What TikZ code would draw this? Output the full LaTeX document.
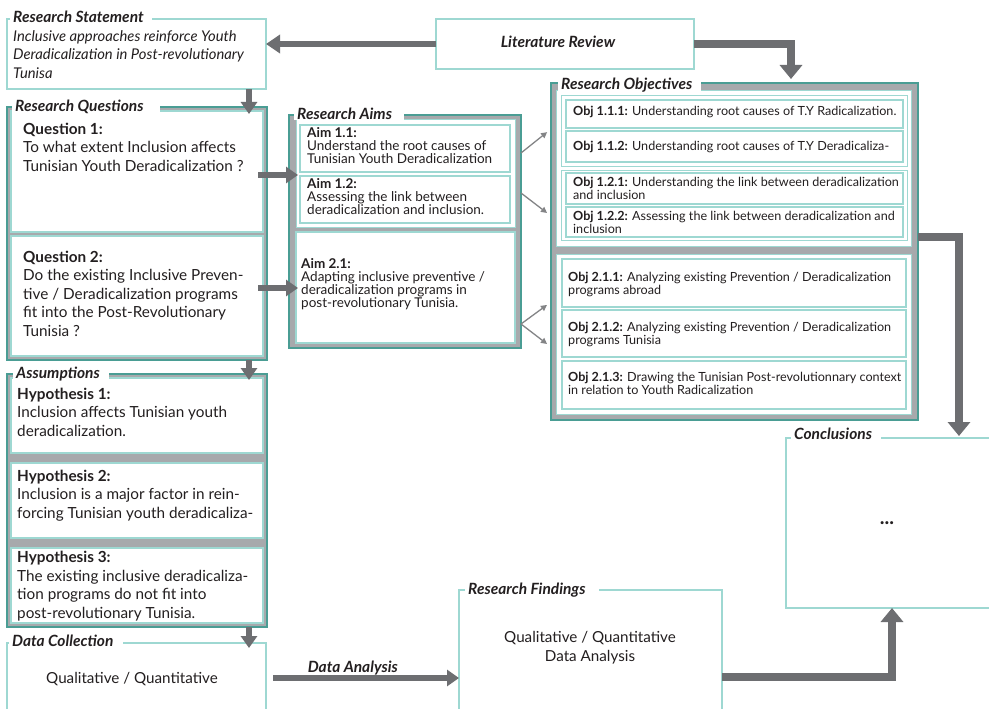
\documentclass[tikz,border=0pt]{standalone}
\usepackage{fontspec}
\setmainfont{Lato}
\usetikzlibrary{arrows.meta}

\definecolor{tealdark}{HTML}{4A9D94}
\definecolor{teallight}{HTML}{9ED8D2}
\definecolor{bandgray}{HTML}{A7A9AC}
\definecolor{arrowgray}{HTML}{6D6E71}
\definecolor{ink}{HTML}{231F20}

% box from its top-left corner (#3,#4) to its bottom-right corner (#5,#6)
\newcommand\mkbox[6]{%
  \node[#2, minimum width={#5-#3}, minimum height={#6-#4},
        anchor=north west, inner sep=0pt, outer sep=0pt] (#1) at (#3,#4) {};}

\newcommand\fsTitle{\fontsize{15.5}{17}\selectfont\bfseries\itshape}
\newcommand\fsStatement{\fontsize{14.8}{18}\selectfont\itshape}
\newcommand\fsQuestion{\fontsize{15.3}{18.4}\selectfont}
\newcommand\fsHypo{\fontsize{15.3}{18.4}\selectfont}
\newcommand\fsAim{\fontsize{13.5}{12.9}\selectfont}
\newcommand\fsObj{\fontsize{12.6}{12.3}\selectfont}
\newcommand\fsPlain{\fontsize{15.2}{19}\selectfont}

\begin{document}
\begin{tikzpicture}[x=1pt, y=-1pt,
  outerbox/.style={draw=tealdark, fill=bandgray, line width=1.2pt},
  section/.style={draw=teallight, fill=white, line width=1pt},
  itembox/.style={draw=teallight, fill=white, line width=1.2pt},
  plainbox/.style={draw=teallight, line width=1.2pt},
  title/.style={fill=white, inner sep=0pt, anchor=base west, text=ink, font=\fsTitle},
  txt/.style={anchor=base west, align=left, inner sep=0pt, text=ink},
  ctxt/.style={anchor=base, align=center, inner sep=0pt, text=ink},
  fatarrow/.style={draw=arrowgray, line width=6pt, -{Triangle[width=18pt,length=14pt]}},
  vfatarrow/.style={draw=arrowgray, line width=6pt, -{Triangle[width=16pt,length=12pt]}},
  widearrow/.style={draw=arrowgray, line width=8.5pt, -{Triangle[width=22pt,length=14pt]}},
  thinarrow/.style={draw=arrowgray!85, line width=1.3pt, -{Triangle[width=6pt,length=6pt]}}]

\useasboundingbox (0,0) rectangle (989,709);
\clip (0,0) rectangle (989,709);
\fill[white] (0,0) rectangle (989,709);

% ---------- boxes ----------
\mkbox{rs}{plainbox}{7}{19}{266}{89}
\mkbox{lit}{plainbox}{436}{19}{694}{69}

\mkbox{rq}{outerbox}{7}{107}{267}{360}
\mkbox{q1}{itembox}{11}{111}{263}{232}
\mkbox{q2}{itembox}{11}{236}{263}{356}

\mkbox{ra}{outerbox}{289}{115}{521}{348}
\mkbox{ra1}{section}{296}{120}{515}{227}
\mkbox{a11}{itembox}{300}{125}{510}{172}
\mkbox{a12}{itembox}{300}{176}{510}{223}
\mkbox{a21}{itembox}{296}{232}{515}{343}

\mkbox{ro}{outerbox}{551}{83}{918}{420}
\mkbox{ros1}{section}{556}{91}{911}{246}
\mkbox{g1}{section}{561}{96}{907}{166}
\mkbox{o111}{itembox}{566}{100}{903}{128}
\mkbox{o112}{itembox}{566}{131}{903}{162}
\mkbox{g2}{section}{561}{170}{907}{240}
\mkbox{o121}{itembox}{566}{173}{903}{204}
\mkbox{o122}{itembox}{566}{207}{903}{237}
\mkbox{ros2}{section}{556}{254}{911}{414}
\mkbox{o211}{itembox}{562}{259}{906}{307}
\mkbox{o212}{itembox}{562}{310}{906}{357}
\mkbox{o213}{itembox}{562}{361}{906}{409}

\mkbox{as}{outerbox}{7}{374}{267}{627}
\mkbox{h1}{itembox}{11}{378}{263}{453}
\mkbox{h2}{itembox}{11}{463}{263}{538}
\mkbox{h3}{itembox}{11}{548}{263}{623}

\mkbox{dc}{plainbox}{7}{643}{266}{730}
\mkbox{rf}{plainbox}{459}{590}{722}{730}
\mkbox{cc}{plainbox}{786}{438}{1010}{608}

% ---------- texts (placed by the baseline of their last line) ----------
\node[txt, font=\fsStatement] (t-rs) at (13,78)
  {Inclusive approaches reinforce Youth\\Deradicalization in Post-revolutionary\\Tunisa};
\node[ctxt, font=\fsTitle] (t-lit) at (558,48) {Literature Review};

\node[txt, font=\fsQuestion] (t-q1) at (23,171)
  {\textbf{Question 1:}\\To what extent Inclusion affects\\Tunisian Youth Deradicalization ?};
\node[txt, font=\fsQuestion] (t-q2) at (23,336)
  {\textbf{Question 2:}\\Do the existing Inclusive Preven-\\tive / Deradicalization programs\\fit into the Post-Revolutionary\\Tunisia ?};

\node[txt, font=\fsAim] (t-a11) at (307,163)
  {\textbf{Aim 1.1:}\\Understand the root causes of\\Tunisian Youth Deradicalization};
\node[txt, font=\fsAim] (t-a12) at (307,214)
  {\textbf{Aim 1.2:}\\Assessing the link between\\deradicalization and inclusion.};
\node[txt, font=\fsAim] (t-a21) at (301,307)
  {\textbf{Aim 2.1:}\\Adapting inclusive preventive /\\deradicalization programs in\\post-revolutionary Tunisia.};

\node[txt, font=\fsObj] (t-o111) at (573,116)
  {\textbf{Obj 1.1.1:} Understanding root causes of T.Y Radicalization.};
\node[txt, font=\fsObj] (t-o112) at (573,150)
  {\textbf{Obj 1.1.2:} Understanding root causes of T.Y Deradicaliza-};
\node[txt, font=\fsObj] (t-o121) at (573,199)
  {\textbf{Obj 1.2.1:} Understanding the link between deradicalization\\and inclusion};
\node[txt, font=\fsObj] (t-o122) at (573,233)
  {\textbf{Obj 1.2.2:} Assessing the link between deradicalization and\\inclusion};
\node[txt, font=\fsObj] (t-o211) at (568,294)
  {\textbf{Obj 2.1.1:} Analyzing existing Prevention / Deradicalization\\programs abroad};
\node[txt, font=\fsObj] (t-o212) at (568,344)
  {\textbf{Obj 2.1.2:} Analyzing existing Prevention / Deradicalization\\programs Tunisia};
\node[txt, font=\fsObj] (t-o213) at (568,394)
  {\textbf{Obj 2.1.3:} Drawing the Tunisian Post-revolutionnary context\\in relation to Youth Radicalization};

\node[txt, font=\fsHypo] (t-h1) at (17,436)
  {\textbf{Hypothesis 1:}\\Inclusion affects Tunisian youth\\deradicalization.};
\node[txt, font=\fsHypo] (t-h2) at (17,518)
  {\textbf{Hypothesis 2:}\\Inclusion is a major factor in rein-\\forcing Tunisian youth deradicaliza-};
\node[txt, font=\fsHypo] (t-h3) at (17,618)
  {\textbf{Hypothesis 3:}\\The existing inclusive deradicaliza-\\tion programs do not fit into\\post-revolutionary Tunisia.};

\node[ctxt, font=\fsPlain] (t-dc) at (132,683) {Qualitative / Quantitative};
\node[ctxt, font=\fsPlain] (t-rf) at (590,661) {Qualitative / Quantitative\\Data Analysis};
\node[ctxt, font=\fontsize{20}{22}\selectfont\bfseries] (t-cc) at (887,524) {...};

% ---------- titles breaking the frames ----------
\node[title] (h-rs) at (10,23) {\hspace*{3pt}Research Statement\hspace*{8pt}};
\node[title] (h-rq) at (12,112) {\hspace*{3pt}Research Questions\hspace*{16pt}};
\node[title] (h-ra) at (294,120) {\hspace*{3pt}Research Aims\hspace*{12pt}};
\node[title] (h-ro) at (558,90) {\hspace*{3pt}Research Objectives\hspace*{9pt}};
\node[title] (h-as) at (13,378) {\hspace*{3pt}Assumptions\hspace*{9pt}};
\node[title] (h-dc) at (9,646) {\hspace*{3pt}Data Collection\hspace*{10pt}};
\node[title] (h-rf) at (465,594) {\hspace*{3pt}Research Findings\hspace*{13pt}};
\node[title] (h-cc) at (791,439) {\hspace*{3pt}Conclusions\hspace*{9pt}};

% ---------- connectors ----------
\coordinate (colL) at (249,0);
\coordinate (colR) at (791,0);
\coordinate (colC) at (959,0);
\coordinate (colD) at (892,0);
\coordinate (rowA) at (0,175);
\coordinate (rowB) at (0,288);
\coordinate (rowC) at (0,237);
\coordinate (rowD) at (0,677);
\coordinate (rowE) at (0,678);

\draw[fatarrow] (lit.west) -- (lit.west -| rs.east);
\draw[widearrow, shorten >=4pt] (lit.east) -| (ro.north -| colR);

\draw[vfatarrow, shorten >=-7pt] (rs.south -| colL) -- (rq.north -| colL);
\draw[vfatarrow, shorten >=-6pt] (rq.south -| colL) -- (as.north -| colL);
\draw[vfatarrow, shorten >=-5pt] (as.south -| colL) -- (dc.north -| colL);

\draw[vfatarrow, shorten <=-9pt, shorten >=-9pt] (rq.east |- rowA) -- (ra.west |- rowA);
\draw[vfatarrow, shorten <=-9pt, shorten >=-9pt] (rq.east |- rowB) -- (ra.west |- rowB);

\coordinate (y153) at (0,153);
\coordinate (y129) at (0,129);
\coordinate (y193) at (0,193);
\coordinate (y216) at (0,216);
\coordinate (y324) at (0,324);
\coordinate (y302) at (0,302);
\coordinate (y347) at (0,347);
\draw[thinarrow, shorten >=5pt] (ra.east |- y153) -- (ro.west |- y129);
\draw[thinarrow, shorten >=5pt] (ra.east |- y193) -- (ro.west |- y216);
\draw[thinarrow, shorten >=5pt] (ra.east |- y324) -- (ro.west |- y302);
\draw[thinarrow, shorten >=5pt] (ra.east |- y324) -- (ro.west |- y347);

\draw[widearrow, shorten >=2pt] (ro.east |- rowC) -| (cc.north -| colC);
\draw[widearrow] (rf.east |- rowD) -| (cc.south -| colD);

\draw[vfatarrow, shorten <=7pt] (dc.east |- rowE) -- (rf.west |- rowE)
  node[ctxt, font=\fsTitle, pos=0.45, yshift=6pt] (l-da) {Data Analysis};
\end{tikzpicture}
\end{document}
